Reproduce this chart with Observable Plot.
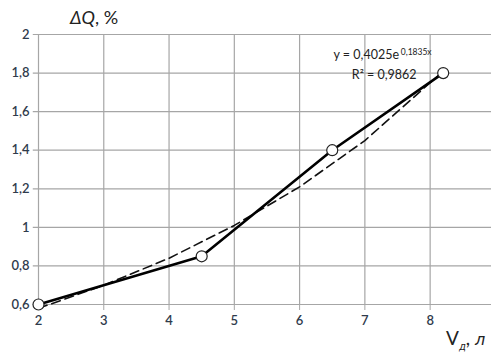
<!DOCTYPE html>
<html><head><meta charset="utf-8">
<script src="https://cdn.jsdelivr.net/npm/d3@7"></script>
<script src="https://cdn.jsdelivr.net/npm/@observablehq/plot@0.6"></script>
<style>
body{margin:0;background:#fff;}
#wrap{position:relative;width:492px;height:352px;font-family:Lato,"Open Sans",Arial,sans-serif;}
.lbl{position:absolute;color:#222;}
.obl{font-family:"DejaVu Sans",sans-serif;font-style:oblique;}
</style></head><body><div id="wrap"></div>
<script>
const volume = [2, 4.5, 6.5, 8.2];
const deltaQ = [0.6, 0.85, 1.4, 1.8];
const trendX = [2, 3, 4, 5, 6, 7, 8, 8.2];
const trendY = [0.58, 0.70, 0.84, 1.01, 1.21, 1.45, 1.75, 1.81];
const xTicks = [2, 3, 4, 5, 6, 7, 8];
const yTicks = [0.6, 0.8, 1, 1.2, 1.4, 1.6, 1.8, 2];
const eq1 = "y = 0,4025e";
const eqExp = "0,1835x";
const eq2 = "R² = 0,9862";

const pts = volume.map((v, i) => ({x: v, y: deltaQ[i]}));
const trend = trendX.map((v, i) => ({x: v, y: trendY[i]}));
const fmt = d => String(d).replace(".", ",");
const font = "Lato, 'Open Sans', Arial, sans-serif";

const chart = Plot.plot({
  width: 492, height: 352,
  marginLeft: 38, marginRight: 1, marginTop: 34, marginBottom: 48,
  x: {domain: [2, 8.94]},
  y: {domain: [0.6, 2]},
  style: {fontSize: "13px", fontFamily: font, color: "#2f3b4c"},
  marks: [
    Plot.gridX(xTicks, {stroke: "#a6a6a6", strokeOpacity: 1, strokeWidth: 1.2}),
    Plot.gridY(yTicks, {stroke: "#a6a6a6", strokeOpacity: 1, strokeWidth: 1.2, x1: 1.92, x2: 8.94}),
    Plot.axisX(xTicks, {tickFormat: d => d, stroke: "#a6a6a6", tickSize: 6, tickPadding: 5, fill: "#2f3b4c", fontSize: 13, fontWeight: 600, label: null}),
    Plot.axisY(yTicks, {tickFormat: fmt, tickSize: 0, tickPadding: 9, fill: "#2f3b4c", fontSize: 13, fontWeight: 600, label: null}),
    Plot.line(trend, {x: "x", y: "y", stroke: "#111", strokeWidth: 1.6, strokeDasharray: "9,5"}),
    Plot.line(pts, {x: "x", y: "y", stroke: "#000", strokeWidth: 2.6}),
    Plot.dot(pts, {x: "x", y: "y", r: 5.5, fill: "#fff", stroke: "#222", strokeWidth: 1.2}),
    Plot.text([{x: 6.52, y: 1.893}], {x: "x", y: "y", text: () => eq1, textAnchor: "start", fontSize: 12.5, fill: "#222"}),
    Plot.text([{x: 7.55, y: 1.907}], {x: "x", y: "y", text: () => eqExp, textAnchor: "start", fontSize: 8.5, fill: "#222"}),
    Plot.text([{x: 6.8, y: 1.79}], {x: "x", y: "y", text: () => eq2, textAnchor: "start", fontSize: 12.5, fill: "#222"})
  ]
});
const wrap = document.getElementById("wrap");
wrap.appendChild(chart);
const t = document.createElement("div");
t.className = "lbl";
t.style.cssText = "left:70px;top:6px;font-size:18px;";
t.innerHTML = "<i>ΔQ</i>, %";
wrap.appendChild(t);
const xl = document.createElement("div");
xl.className = "lbl";
xl.style.cssText = "left:446px;top:326px;font-size:19px;";
xl.innerHTML = "V<sub class='obl' style='font-size:10px'>д</sub>, <span class='obl' style='font-size:16px'>л</span>";
wrap.appendChild(xl);
</script></body></html>
